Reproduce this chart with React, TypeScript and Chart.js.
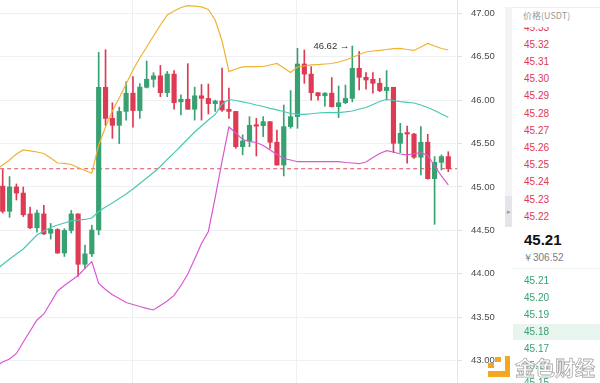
import React, { useEffect, useRef } from "react";
import Chart from "chart.js/auto";

// ---- OHLC candles (index 0..65) ----
const opens = [45.01, 44.72, 45.0, 44.93, 44.69, 44.53, 44.69, 44.467, 44.51, 44.24, 44.5, 44.69, 44.11, 44.23, 44.505, 46.148, 45.79, 45.71, 45.87, 46.08, 45.88, 46.148, 46.24, 46.28, 46.086, 46.3, 45.98, 46.01, 45.895, 46.05, 46.02, 45.96, 45.99, 45.895, 45.87, 45.464, 45.53, 45.71, 45.706, 45.752, 45.515, 45.253, 45.695, 45.81, 46.416, 46.3, 46.086, 46.05, 46.08, 45.925, 45.97, 46.02, 46.367, 46.263, 46.24, 46.194, 46.11, 46.148, 45.503, 45.618, 45.61, 45.342, 45.515, 45.096, 45.284, 45.35];
const highs = [45.2, 45.12, 45.035, 45.0, 44.77, 44.735, 44.79, 44.58, 44.52, 44.52, 44.73, 44.69, 44.33, 44.56, 46.55, 46.58, 45.97, 45.92, 46.21, 46.27, 46.19, 46.45, 46.316, 46.4, 46.33, 46.34, 46.06, 46.42, 46.15, 46.18, 46.186, 46.0, 46.37, 46.14, 45.87, 45.6, 45.81, 45.79, 45.81, 45.752, 45.656, 45.944, 46.11, 46.597, 46.577, 46.385, 46.086, 46.086, 46.26, 46.163, 46.174, 46.623, 46.56, 46.316, 46.316, 46.25, 46.34, 46.148, 45.733, 45.7, 45.618, 45.695, 45.607, 45.35, 45.37, 45.406];
const lows = [44.7, 44.65, 44.85, 44.66, 44.52, 44.48, 44.45, 44.4, 44.235, 44.2, 44.47, 43.97, 44.06, 44.2, 44.45, 45.71, 45.56, 45.5, 45.77, 45.69, 45.79, 46.14, 46.15, 46.04, 46.04, 45.895, 45.83, 45.895, 45.77, 45.77, 45.84, 45.87, 45.87, 45.79, 45.445, 45.37, 45.464, 45.357, 45.58, 45.445, 45.25, 45.127, 45.676, 45.676, 46.194, 46.0, 46.0, 45.93, 45.92, 45.8, 45.96, 45.98, 46.117, 46.125, 46.08, 46.097, 46.0, 45.395, 45.395, 45.273, 45.33, 45.138, 45.09, 44.57, 45.196, 45.176];
const closes = [44.72, 45.0, 44.93, 44.68, 44.53, 44.7, 44.46, 44.513, 44.24, 44.5, 44.69, 44.11, 44.23, 44.505, 46.148, 45.79, 45.71, 45.87, 46.08, 45.88, 46.15, 46.24, 46.28, 46.086, 46.3, 45.97, 46.01, 45.895, 46.05, 46.02, 45.96, 45.99, 45.886, 45.87, 45.464, 45.53, 45.71, 45.7, 45.752, 45.515, 45.253, 45.695, 45.81, 46.416, 46.3, 46.086, 46.05, 46.08, 45.925, 45.97, 46.02, 46.367, 46.263, 46.232, 46.194, 46.11, 46.148, 45.503, 45.618, 45.61, 45.342, 45.515, 45.096, 45.284, 45.35, 45.21];

// ---- Bollinger bands (index -1..65) ----
const bandStart = -1;
const upperBand = [45.196, 45.253, 45.311, 45.38, 45.426, 45.415, 45.403, 45.386, 45.334, 45.276, 45.271, 45.259, 45.225, 45.19, 45.158, 45.484, 45.691, 45.875, 46.025, 46.186, 46.347, 46.485, 46.612, 46.739, 46.865, 46.98, 47.026, 47.067, 47.088, 47.082, 47.073, 47.044, 46.923, 46.681, 46.328, 46.359, 46.382, 46.385, 46.385, 46.387, 46.405, 46.422, 46.37, 46.318, 46.382, 46.393, 46.405, 46.41, 46.416, 46.422, 46.439, 46.462, 46.491, 46.526, 46.554, 46.566, 46.572, 46.583, 46.592, 46.597, 46.583, 46.572, 46.612, 46.652, 46.623, 46.595, 46.577];
const middleBand = [44.044, 44.108, 44.171, 44.229, 44.286, 44.367, 44.447, 44.493, 44.534, 44.562, 44.585, 44.609, 44.62, 44.626, 44.643, 44.718, 44.77, 44.816, 44.868, 44.919, 44.977, 45.04, 45.104, 45.167, 45.236, 45.317, 45.392, 45.472, 45.553, 45.633, 45.702, 45.771, 45.835, 45.956, 46.007, 45.996, 45.979, 45.964, 45.944, 45.927, 45.906, 45.887, 45.869, 45.846, 45.835, 45.835, 45.843, 45.852, 45.856, 45.856, 45.856, 45.864, 45.875, 45.898, 45.915, 45.95, 45.984, 46.01, 45.996, 45.982, 45.975, 45.967, 45.944, 45.915, 45.881, 45.841, 45.803];
const lowerBand = [42.939, 42.985, 43.02, 43.083, 43.215, 43.342, 43.469, 43.538, 43.67, 43.803, 43.866, 43.923, 43.981, 44.062, 44.14, 43.889, 43.82, 43.76, 43.716, 43.67, 43.647, 43.624, 43.603, 43.584, 43.636, 43.687, 43.751, 43.866, 43.998, 44.171, 44.349, 44.488, 44.879, 45.299, 45.691, 45.622, 45.547, 45.526, 45.512, 45.478, 45.426, 45.374, 45.328, 45.311, 45.291, 45.291, 45.291, 45.291, 45.291, 45.291, 45.291, 45.282, 45.276, 45.268, 45.288, 45.34, 45.386, 45.418, 45.403, 45.38, 45.369, 45.383, 45.395, 45.363, 45.242, 45.127, 45.023];

// ---- axes ----
const xRange = [-0.394, 66.27];
const yRange = [42.743, 47.153];
const yStep = 0.5;
const xGridAt = [18.96, 42.83];

// ---- order book panel ----
const askPrices = ["45.33", "45.32", "45.31", "45.30", "45.29", "45.28", "45.27", "45.26", "45.25", "45.24", "45.23", "45.22"];
const bidPrices = ["45.21", "45.20", "45.19", "45.18", "45.17", "45.16", "45.15"];
const lastPriceText = "45.21";
const cnyPriceText = "￥306.52";
const highlightedBid = "45.18";

const RED = "#dd3a53";
const GREEN = "#37a172";

const highLabelPlugin = {
  id: "highLabel",
  afterDatasetsDraw(chart: any) {
    const { ctx, scales } = chart;
    const x = scales.x;
    const y = scales.y;
    let mi = 0;
    highs.forEach((h, i) => {
      if (h > highs[mi]) mi = i;
    });
    const px = x.getPixelForValue(mi) - 3;
    const py = y.getPixelForValue(highs[mi]);
    ctx.save();
    ctx.font = '9.5px "Liberation Sans", Arial, sans-serif';
    ctx.fillStyle = "#333";
    ctx.textAlign = "right";
    ctx.textBaseline = "middle";
    ctx.fillText(highs[mi].toFixed(2) + " \u2192", px, py);
    ctx.restore();
  },
};

function App() {
  const ref = useRef<HTMLCanvasElement | null>(null);

  useEffect(() => {
    if (!ref.current) return;
    const idx = opens.map((_, i) => i);
    const colors = idx.map((i) => (closes[i] >= opens[i] ? GREEN : RED));
    const lastClose = closes[closes.length - 1];
    const band = (arr: number[]) => arr.map((v, k) => ({ x: k + bandStart, y: v }));

    const chart = new Chart(ref.current, {
      type: "bar",
      data: {
        datasets: [
          {
            type: "line",
            data: band(upperBand),
            borderColor: "#f0b232",
            borderWidth: 1.2,
            pointRadius: 0,
            tension: 0,
            order: -1,
          } as any,
          {
            type: "line",
            data: band(middleBand),
            borderColor: "#4cc8b4",
            borderWidth: 1.2,
            pointRadius: 0,
            tension: 0,
            order: -1,
          } as any,
          {
            type: "line",
            data: band(lowerBand),
            borderColor: "#d65ad2",
            borderWidth: 1.2,
            pointRadius: 0,
            tension: 0,
            order: -1,
          } as any,
          {
            type: "line",
            data: [
              { x: xRange[0] - 1, y: lastClose },
              { x: xRange[1] + 1, y: lastClose },
            ],
            borderColor: "rgba(221,58,83,0.9)",
            borderDash: [4, 3],
            borderWidth: 1,
            pointRadius: 0,
            order: 3,
          } as any,
          {
            type: "bar",
            data: idx.map((i) => ({ x: i, y: [lows[i], highs[i]] })),
            backgroundColor: colors,
            barThickness: 1,
            grouped: false,
            order: 2,
          } as any,
          {
            type: "bar",
            data: idx.map((i) => ({ x: i, y: [opens[i], closes[i]] })),
            backgroundColor: colors,
            barThickness: 4.5,
            minBarLength: 1.5,
            grouped: false,
            order: 1,
          } as any,
        ],
      },
      options: {
        animation: false,
        responsive: false,
        events: [],
        layout: { padding: 0 },
        plugins: { legend: { display: false }, tooltip: { enabled: false } },
        scales: {
          x: {
            type: "linear",
            min: xRange[0],
            max: xRange[1],
            offset: false,
            grid: { color: "#eef0f3", drawTicks: false, offset: false },
            border: { display: false },
            ticks: { display: false },
            afterBuildTicks: (s: any) => {
              s.ticks = xGridAt.map((v) => ({ value: v }));
            },
            afterFit: (s: any) => {
              s.height = 0;
              s.paddingLeft = 0;
              s.paddingRight = 0;
              s.paddingTop = 0;
              s.paddingBottom = 0;
            },
          },
          y: {
            type: "linear",
            position: "right",
            min: yRange[0],
            max: yRange[1],
            ticks: {
              stepSize: yStep,
              includeBounds: false,
              padding: 9,
              color: "#4a4a4a",
              font: { family: "'Liberation Sans', Arial, sans-serif", size: 9.5 },
              callback: (v: any) => Number(v).toFixed(2),
            },
            grid: { color: "#eef0f3", tickLength: 5, tickColor: "#dfe2e6" },
            border: { color: "#e3e6ea" },
            afterFit: (s: any) => {
              s.width = 48;
              s.paddingTop = 0;
              s.paddingBottom = 0;
            },
          },
        },
      } as any,
      plugins: [highLabelPlugin],
    });
    return () => chart.destroy();
  }, []);

  const rowStyle = (center: number, color: string): React.CSSProperties => ({
    position: "absolute",
    left: 0,
    top: center - 8.5,
    height: 17,
    lineHeight: "17px",
    width: 88,
    paddingLeft: 12,
    boxSizing: "border-box",
    fontSize: 10,
    color,
    whiteSpace: "nowrap",
  });

  return (
    <div
      style={{
        position: "fixed",
        left: 0,
        top: 0,
        width: 600,
        height: 383,
        background: "#fff",
        overflow: "hidden",
        fontFamily: "'Liberation Sans', Arial, sans-serif",
      }}
    >
      <canvas ref={ref} width={505} height={383} style={{ position: "absolute", left: 0, top: 0, width: 505, height: 383 }} />

      {/* left strip of panel */}
      <div style={{ position: "absolute", left: 505, top: 7, width: 7, height: 220, background: "#f2f3f5" }} />
      <div
        style={{
          position: "absolute",
          left: 505,
          top: 196,
          width: 7,
          height: 31,
          background: "#e3e5e8",
          color: "#9a9a9a",
          fontSize: 7,
          lineHeight: "31px",
          textAlign: "center",
        }}
      >
        ▸
      </div>

      {/* header */}
      <div style={{ position: "absolute", left: 512, top: 7, width: 88, height: 1, background: "#eceef1" }} />
      <div
        style={{
          position: "absolute",
          left: 523,
          top: 10,
          height: 11,
          lineHeight: "11px",
          fontSize: 9,
          color: "#9a9a9a",
          fontFamily: "'Noto Sans CJK SC', sans-serif",
          whiteSpace: "nowrap",
        }}
      >
        价格(USDT)
      </div>

      {/* asks */}
      <div style={{ position: "absolute", left: 512, top: 26.5, width: 88, height: 200.5, overflow: "hidden" }}>
        {askPrices.map((p, i) => (
          <div key={p} style={rowStyle(0.5 + 17.2 * i, RED)}>
            {p}
          </div>
        ))}
      </div>

      {/* last price */}
      <div
        style={{
          position: "absolute",
          left: 524,
          top: 231,
          height: 18,
          lineHeight: "18px",
          fontSize: 15,
          fontWeight: 700,
          color: "#111",
        }}
      >
        {lastPriceText}
      </div>
      <div
        style={{
          position: "absolute",
          left: 523,
          top: 252,
          height: 12,
          lineHeight: "12px",
          fontSize: 10,
          color: "#7a7a7a",
          whiteSpace: "nowrap",
        }}
      >
        {cnyPriceText}
      </div>
      <div style={{ position: "absolute", left: 512, top: 268, width: 88, height: 1, background: "#f1f2f4" }} />

      {/* bids */}
      <div style={{ position: "absolute", left: 512, top: 0, width: 88, height: 383 }}>
        {bidPrices.map((p, i) => {
          const c = 280.8 + 17 * i;
          return (
            <React.Fragment key={p}>
              {p === highlightedBid && (
                <div style={{ position: "absolute", left: 1, top: c - 8.3, width: 87, height: 16.6, background: "#e8f5ee" }} />
              )}
              <div style={rowStyle(c, GREEN)}>{p}</div>
            </React.Fragment>
          );
        })}
      </div>

      {/* watermark */}
      <div style={{ position: "absolute", left: 505, top: 356, width: 5, height: 21, background: "#f4a81d" }} />
      <div style={{ position: "absolute", left: 488, top: 371, width: 22, height: 6, background: "#f4a81d" }} />
      <div style={{ position: "absolute", left: 488, top: 363, width: 6, height: 5, background: "#f4a81d" }} />
      <div style={{ position: "absolute", left: 495, top: 357, width: 6, height: 5, background: "#f4a81d" }} />
      <div
        style={{
          position: "absolute",
          left: 515,
          top: 357,
          height: 21,
          lineHeight: "21px",
          fontSize: 20,
          fontWeight: 700,
          color: "#ffffff",
          WebkitTextStroke: "0.8px #a9a9a9",
          fontFamily: "'Noto Sans CJK SC', sans-serif",
          whiteSpace: "nowrap",
          letterSpacing: 0,
        }}
      >
        金色财经
      </div>
    </div>
  );
}

export default App;
